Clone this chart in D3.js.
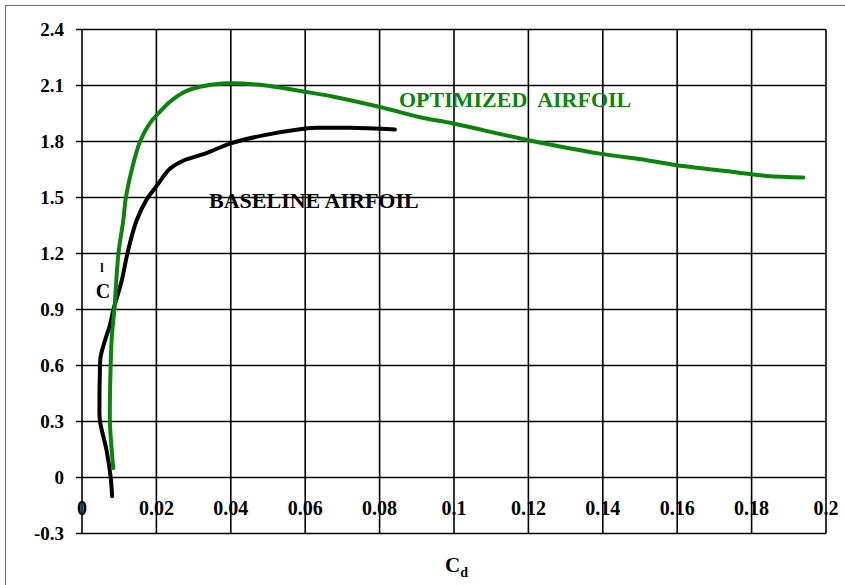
<!DOCTYPE html>
<html>
<head>
<meta charset="utf-8">
<script src="https://cdn.jsdelivr.net/npm/d3@7"></script>
<style>
  html, body { margin: 0; padding: 0; background: #fff; }
  svg { display: block; }
  text { font-family: "Liberation Serif", "Times New Roman", serif; font-weight: bold; }
</style>
</head>
<body>
<svg id="chart" width="845" height="585"></svg>
<script>
// Drag polar: lift coefficient vs drag coefficient
const xTicks = [0, 0.02, 0.04, 0.06, 0.08, 0.1, 0.12, 0.14, 0.16, 0.18, 0.2];
const xTickLabels = ["0", "0.02", "0.04", "0.06", "0.08", "0.1", "0.12", "0.14", "0.16", "0.18", "0.2"];
const yTicks = [-0.3, 0, 0.3, 0.6, 0.9, 1.2, 1.5, 1.8, 2.1, 2.4];
const yTickLabels = ["-0.3", "0", "0.3", "0.6", "0.9", "1.2", "1.5", "1.8", "2.1", "2.4"];

// Optimized airfoil: [Cd, Cl]
const optimizedCd = [0.0084, 0.0079, 0.0075, 0.0077, 0.0080, 0.0087, 0.0098, 0.0111, 0.0118, 0.0134, 0.0156, 0.0183, 0.0205, 0.0235, 0.0270, 0.0317, 0.0389, 0.0470, 0.0604, 0.0676, 0.0801, 0.0909, 0.0998, 0.1200, 0.1392, 0.1518, 0.1599, 0.1751, 0.1841, 0.1939];
const optimizedCl = [0.05, 0.17, 0.30, 0.60, 0.75, 0.90, 1.20, 1.378, 1.50, 1.65, 1.80, 1.90, 1.95, 2.01, 2.06, 2.093, 2.112, 2.105, 2.065, 2.04, 1.985, 1.93, 1.896, 1.807, 1.735, 1.70, 1.673, 1.637, 1.615, 1.607];

// Baseline airfoil: [Cd, Cl]
const baselineCd = [0.0081, 0.0077, 0.0066, 0.0048, 0.0047, 0.0048, 0.0050, 0.0062, 0.0075, 0.0084, 0.0107, 0.0124, 0.0147, 0.0174, 0.0200, 0.0237, 0.0272, 0.0331, 0.0398, 0.0487, 0.0586, 0.0631, 0.0720, 0.0841];
const baselineCl = [-0.10, 0.003, 0.146, 0.307, 0.396, 0.557, 0.646, 0.735, 0.816, 0.896, 1.057, 1.218, 1.378, 1.49, 1.56, 1.655, 1.697, 1.735, 1.789, 1.833, 1.866, 1.873, 1.873, 1.864];

const svg = d3.select("#chart");

// page frame
svg.append("rect")
  .attr("x", 5.5).attr("y", 5.5)
  .attr("width", 850).attr("height", 590)
  .attr("fill", "none").attr("stroke", "#777").attr("stroke-width", 1.2);

const plot = { left: 82, right: 826, top: 29.5, bottom: 533.5 };
const x = d3.scaleLinear().domain([0, 0.2]).range([plot.left, plot.right]);
const y = d3.scaleLinear().domain([-0.3, 2.4]).range([plot.bottom, plot.top]);

// grid
const grid = svg.append("g").attr("stroke", "#000").attr("stroke-width", 1.6);
grid.selectAll("line.v").data(xTicks).join("line")
  .attr("x1", d => x(d)).attr("x2", d => x(d))
  .attr("y1", plot.top).attr("y2", plot.bottom);
grid.selectAll("line.h").data(yTicks).join("line")
  .attr("x1", plot.left - 6).attr("x2", plot.right)
  .attr("y1", d => y(d)).attr("y2", d => y(d));

// y axis tick labels
svg.append("g").selectAll("text").data(yTicks).join("text")
  .attr("x", 64).attr("y", d => y(d)).attr("dy", "0.35em")
  .attr("text-anchor", "end").attr("font-size", 19)
  .text((d, i) => yTickLabels[i]);

// x axis tick labels (placed below the Cl = 0 line)
svg.append("g").selectAll("text").data(xTicks).join("text")
  .attr("x", d => x(d)).attr("y", y(0) + 37)
  .attr("text-anchor", "middle").attr("font-size", 20)
  .text((d, i) => xTickLabels[i]);

// curves
const line = d3.line().x(d => x(d[0])).y(d => y(d[1])).curve(d3.curveCatmullRom.alpha(0.5));
const baseline = baselineCd.map((d, i) => [d, baselineCl[i]]);
const optimized = optimizedCd.map((d, i) => [d, optimizedCl[i]]);

svg.append("path").datum(baseline)
  .attr("d", line).attr("fill", "none")
  .attr("stroke", "#000").attr("stroke-width", 4)
  .attr("stroke-linecap", "round").attr("stroke-linejoin", "round");

svg.append("path").datum(optimized)
  .attr("d", line).attr("fill", "none")
  .attr("stroke", "#0b840b").attr("stroke-width", 4)
  .attr("stroke-linecap", "round").attr("stroke-linejoin", "round");

// series labels
svg.append("text").attr("x", 399).attr("y", 107)
  .attr("font-size", 22).attr("fill", "#0b840b")
  .attr("xml:space", "preserve")
  .text("OPTIMIZED  AIRFOIL");

svg.append("text").attr("x", 209).attr("y", 208)
  .attr("font-size", 22).attr("fill", "#000")
  .text("BASELINE AIRFOIL");

// axis titles
const xt = svg.append("text").attr("x", 445).attr("y", 572).attr("font-size", 21);
xt.append("tspan").text("C");
xt.append("tspan").attr("font-size", 14).attr("dy", 5).text("d");

svg.append("text").attr("x", 102).attr("y", 272)
  .attr("font-size", 12).attr("text-anchor", "middle").text("l");
svg.append("text").attr("x", 103).attr("y", 298)
  .attr("font-size", 20).attr("text-anchor", "middle").text("C");
</script>
</body>
</html>
